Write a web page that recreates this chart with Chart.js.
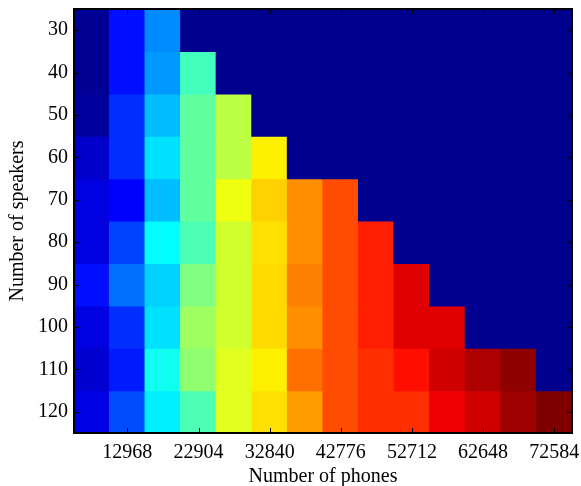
<!DOCTYPE html>
<html>
<head>
<meta charset="utf-8">
<script src="https://cdn.jsdelivr.net/npm/chart.js@4.4.0/dist/chart.umd.min.js"></script>
<style>
  html, body { margin: 0; padding: 0; background: #fff; }
</style>
</head>
<body>
<canvas id="heat" width="581" height="486"></canvas>
<script>
// colonnes : nombre de phones, lignes : nombre de locuteurs
const phones = [8000, 12968, 17936, 22904, 27872, 32840, 37808, 42776, 47744, 52712, 57680, 62648, 67616, 72584];
const speakers = [30, 40, 50, 60, 70, 80, 90, 100, 110, 120];
const phoneTicks = [12968, 22904, 32840, 42776, 52712, 62648, 72584];

// valeurs normalisées (0 = case vide), une liste par ligne
const row30  = [0.02, 0.14, 0.26, 0, 0, 0, 0, 0, 0, 0, 0, 0, 0, 0];
const row40  = [0.02, 0.14, 0.275, 0.44, 0, 0, 0, 0, 0, 0, 0, 0, 0, 0];
const row50  = [0.03, 0.17, 0.31, 0.47, 0.56, 0, 0, 0, 0, 0, 0, 0, 0, 0];
const row60  = [0.075, 0.17, 0.345, 0.47, 0.56, 0.64, 0, 0, 0, 0, 0, 0, 0, 0];
const row70  = [0.095, 0.125, 0.31, 0.47, 0.61, 0.67, 0.735, 0.80, 0, 0, 0, 0, 0, 0];
const row80  = [0.095, 0.19, 0.375, 0.45, 0.58, 0.655, 0.735, 0.80, 0.845, 0, 0, 0, 0, 0];
const row90  = [0.14, 0.235, 0.33, 0.50, 0.58, 0.66, 0.75, 0.80, 0.845, 0.905, 0, 0, 0, 0];
const row100 = [0.095, 0.17, 0.345, 0.53, 0.58, 0.66, 0.735, 0.80, 0.845, 0.905, 0.905, 0, 0, 0];
const row110 = [0.08, 0.15, 0.39, 0.515, 0.595, 0.64, 0.765, 0.80, 0.83, 0.86, 0.92, 0.955, 0.985, 0];
const row120 = [0.10, 0.20, 0.36, 0.45, 0.595, 0.655, 0.72, 0.80, 0.83, 0.83, 0.89, 0.92, 0.97, 1.0];
const rows = [row30, row40, row50, row60, row70, row80, row90, row100, row110, row120];

const FONT = 'Liberation Serif, Times New Roman, serif';

// palette "jet" (comme matlab, 64 niveaux -> premier = bleu nuit)
function jet(v) {
  const t = Math.max(v, 1 / 64);
  const c = x => Math.round(255 * Math.min(1, Math.max(0, x)));
  const r = c(Math.min(4 * t - 1.5, -4 * t + 4.5));
  const g = c(Math.min(4 * t - 0.5, -4 * t + 3.5));
  const b = c(Math.min(4 * t + 0.5, -4 * t + 2.5));
  return `rgb(${r},${g},${b})`;
}

const half = (speakers[1] - speakers[0]) / 2;

const datasets = speakers.map((s, i) => ({
  label: String(s),
  data: rows[i].map(() => [s - half, s + half]),
  backgroundColor: rows[i].map(jet),
  borderWidth: 0,
  grouped: false,
  barPercentage: 1,
  categoryPercentage: 1,
  inflateAmount: 0.6
}));

// cadre + petites graduations vers l'intérieur
const frame = {
  id: 'frame',
  afterDatasetsDraw(chart) {
    const { ctx, chartArea: a, scales: { x, y } } = chart;
    ctx.save();
    ctx.strokeStyle = '#000';
    ctx.lineWidth = 1;
    ctx.beginPath();
    phones.forEach((p, i) => {
      if (!phoneTicks.includes(p)) return;
      const px = Math.round(x.getPixelForValue(i)) + 0.5;
      ctx.moveTo(px, a.bottom); ctx.lineTo(px, a.bottom - 5);
      ctx.moveTo(px, a.top); ctx.lineTo(px, a.top + 5);
    });
    speakers.forEach(s => {
      const py = Math.round(y.getPixelForValue(s)) + 0.5;
      ctx.moveTo(a.left, py); ctx.lineTo(a.left + 5, py);
      ctx.moveTo(a.right, py); ctx.lineTo(a.right - 5, py);
    });
    ctx.stroke();
    ctx.lineWidth = 2;
    ctx.strokeRect(a.left, a.top, a.right - a.left, a.bottom - a.top);
    ctx.restore();
  }
};

new Chart(document.getElementById('heat'), {
  type: 'bar',
  data: { labels: phones.map(String), datasets },
  options: {
    responsive: false,
    animation: false,
    layout: { padding: { left: 6, right: 9, top: 9, bottom: 0 } },
    plugins: { legend: { display: false }, tooltip: { enabled: false } },
    scales: {
      x: {
        type: 'category',
        offset: true,
        grid: { display: false, drawTicks: false },
        border: { display: false },
        ticks: {
          autoSkip: false, maxRotation: 0, padding: 8,
          color: '#000', font: { family: FONT, size: 20 },
          callback: (v, i) => phoneTicks.includes(phones[i]) ? String(phones[i]) : ''
        },
        title: { display: true, text: 'Number of phones', color: '#000', font: { family: FONT, size: 20 }, padding: { top: 0, bottom: -3 } },
        afterFit: s => { s.height = 53; s.paddingLeft = 0; s.paddingRight = 0; }
      },
      y: {
        type: 'linear',
        reverse: true,
        min: speakers[0] - half,
        max: speakers[speakers.length - 1] + half,
        grid: { display: false, drawTicks: false },
        border: { display: false },
        afterBuildTicks: s => { s.ticks = speakers.map(v => ({ value: v })); },
        ticks: { padding: 6, color: '#000', font: { family: FONT, size: 20 } },
        title: { display: true, text: 'Number of speakers', color: '#000', font: { family: FONT, size: 20 }, padding: 0 },
        afterFit: s => { s.width = 68; s.paddingTop = 0; s.paddingBottom = 0; }
      }
    }
  },
  plugins: [frame]
});
</script>
</body>
</html>
